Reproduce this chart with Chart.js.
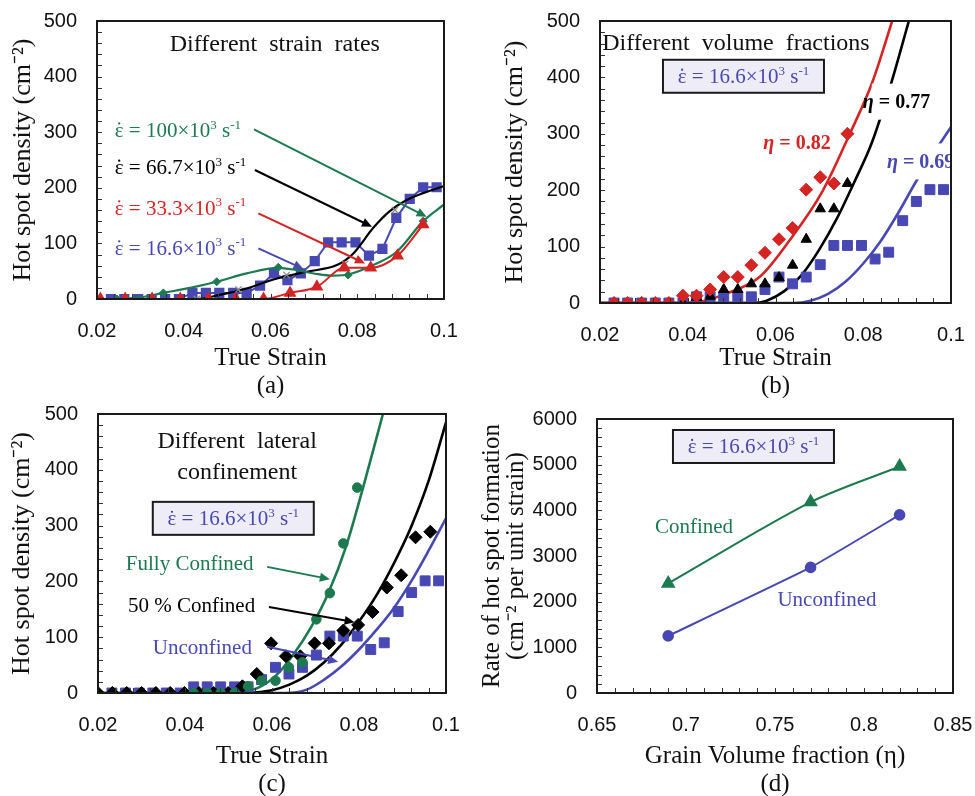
<!DOCTYPE html>
<html><head><meta charset="utf-8">
<script src="https://cdn.jsdelivr.net/npm/chart.js@4/dist/chart.umd.min.js"></script>
<style>
html,body{margin:0;padding:0;background:#fff;width:975px;height:796px;overflow:hidden;position:relative}
canvas{position:absolute}
</style></head><body>
<canvas id="ca" style="left:0;top:0" width="487" height="398"></canvas>
<canvas id="cb" style="left:487px;top:0" width="488" height="398"></canvas>
<canvas id="cc" style="left:0;top:398px" width="487" height="398"></canvas>
<canvas id="cd" style="left:475px;top:398px" width="500" height="398"></canvas>
<script>
// ---------- data ----------
const strainTicks = [0.02, 0.04, 0.06, 0.08, 0.1];
const strainTickLabels = ['0.02', '0.04', '0.06', '0.08', '0.1'];
const densityTicks = [0, 100, 200, 300, 400, 500];
const densityTickLabels = ['0', '100', '200', '300', '400', '500'];
const fracTicks = [0.65, 0.7, 0.75, 0.8, 0.85];
const fracTickLabels = ['0.65', '0.7', '0.75', '0.8', '0.85'];
const rateTicks = [0, 1000, 2000, 3000, 4000, 5000, 6000];
const rateTickLabels = ['0', '1000', '2000', '3000', '4000', '5000', '6000'];

// strain grid of the 16.6e3 /s (eta=0.69, unconfined) simulation outputs
const strainGrid = [0.0232,0.0263,0.0295,0.0326,0.0357,0.0389,0.0420,0.0451,0.0482,0.0514,0.0545,0.0576,0.0608,0.0639,0.0670,0.0702,0.0733,0.0764,0.0796,0.0827,0.0858,0.0890,0.0921,0.0952,0.0983];
const hsd16_6 = [0,0,0,0,0,0,11,11,11,11,11,24,46,34,46,68,102,102,102,78,90,146,180,201,201];

// (a) different strain rates
const rate33Strain = [0.0208,0.0265,0.0327,0.0392,0.0457,0.0520,0.0584,0.0645,0.0707,0.0770,0.0831,0.0893,0.0952];
const rate33Val = [0,0,0,0,0,0,0,11,22,56,56,78,134];
const rate100Strain = [0.0246,0.0353,0.0476,0.0618,0.0779,0.0952];
const rate100Val = [0,11,31,57,43,140];
const rate100CurveStrain = [0.0246,0.030,0.0353,0.042,0.0476,0.0545,0.0618,0.066,0.0707,0.0745,0.0779,0.0837,0.0891,0.0952,0.1];
const rate100CurveVal = [0,3,11,21,31,46,56,52,45,42,44,61,85,140,170];
const rate66Strain = [0.0430,0.0526,0.0637,0.0772,0.0887];
const rate66Val = [0,17,43,63,160];
const rate66CurveStrain = [0.02,0.043,0.048,0.0545,0.0607,0.0683,0.0753,0.0791,0.0837,0.0875,0.0914,0.095,0.1];
const rate66CurveVal = [0,0,7,19,35,49,61,82,128,158,178,190,203];

// (b) different volume fractions
const eta82Val = [0,0,0,0,0,13,13,24,46,46,67,89,113,133,201,223,212,300];
const eta77Val = [0,0,0,0,0,0,10,12,24,24,34,34,45,67,113,167,167,212];
const eta82CurveStrain = [0.020,0.039,0.0428,0.0489,0.0565,0.0633,0.0707,0.077,0.082,0.0866];
const eta82CurveVal = [0,0,2,17,47,112,198,301,390,500];
const eta77CurveStrain = [0.020,0.055,0.058,0.062,0.066,0.070,0.074,0.078,0.082,0.086,0.0904];
const eta77CurveVal = [0,0,4,21,50,95,150,215,285,380,500];
const eta69CurveStrain = [0.020,0.064,0.068,0.072,0.076,0.080,0.084,0.088,0.092,0.096,0.100];
const eta69CurveVal = [0,0,4,16,38,70,110,160,215,265,312];

// (c) different lateral confinement
const confStrain = [0.0200,0.0233,0.0266,0.0300,0.0333,0.0366,0.0399,0.0432,0.0466,0.0499,0.0532,0.0565,0.0598,0.0632,0.0665,0.0698,0.0731,0.0764,0.0798,0.0831,0.0864,0.0897,0.0930,0.0964];
const conf50Val = [0,0,0,0,0,0,0,0,0,0,12,34,89,66,66,89,89,112,122,145,189,211,279,289];
const fullConfVal = [0,0,0,0,12,22,22,46,55,132,179,268,368]; // on strainGrid[6..18]
const fullConfCurveStrain = [0.020,0.049,0.053,0.057,0.061,0.065,0.069,0.073,0.077,0.081,0.0855];
const fullConfCurveVal = [0,0,2,10,32,70,118,180,262,370,500];
const conf50CurveStrain = [0.020,0.053,0.056,0.060,0.064,0.068,0.072,0.076,0.080,0.084,0.088,0.092,0.096,0.100];
const conf50CurveVal = [0,0,1,5,15,31,55,87,128,175,232,298,380,485];
const unconfCurveStrain = [0.058,0.063,0.068,0.072,0.076,0.080,0.084,0.088,0.092,0.096,0.100];
const unconfCurveVal = [0,0,6,24,48,78,113,152,200,255,313];

// (d) rate of hot spot formation
const grainFraction = [0.69, 0.77, 0.82];
const rateConfined = [2400, 4180, 4960];
const rateUnconfined = [1250, 2750, 3900];

// ---------- style ----------
const GREEN = '#1d7a50', RED = '#d42424', BLUE = '#4848b4', BLACK = '#000';
const SERIF = 'Liberation Serif', SANS = 'Liberation Sans';

const pts = (xs, ys) => xs.map((x, i) => ({x, y: ys[i]}));

function drawRich(ctx, parts, x, y, o) {
  const size = o.size, weight = o.bold ? 'bold ' : '';
  const fontFor = p => (p.it ? 'italic ' : '') + weight + (p.sup ? Math.round(size * 0.62) : size) + 'px "' + SERIF + '"';
  let w = 0; const ws = [];
  for (const p of parts) { ctx.font = fontFor(p); const m = ctx.measureText(p.t).width; ws.push(m); w += m; }
  let cx = o.align === 'center' ? x - w / 2 : (o.align === 'right' ? x - w : x);
  if (o.bg) { ctx.fillStyle = '#fff'; ctx.fillRect(cx + o.bg[0], y - o.bg[2] / 2, w - o.bg[0] + o.bg[1], o.bg[2]); }
  ctx.fillStyle = o.color; ctx.textBaseline = 'alphabetic'; ctx.textAlign = 'left';
  const base = y + size * 0.33;
  parts.forEach((p, i) => {
    ctx.font = fontFor(p);
    ctx.fillText(p.t, cx, p.sup ? base - size * 0.4 : base);
    if (p.dot) { ctx.beginPath(); ctx.arc(cx + ws[i] * 0.5, base - size * 0.64, size * 0.055, 0, Math.PI * 2); ctx.fill(); }
    cx += ws[i];
  });
  return w;
}
const rateParts = num => [{t: 'ε', dot: true}, {t: ' = ' + num + '×10'}, {t: '3', sup: true}, {t: ' s'}, {t: '-1', sup: true}];
const etaParts = num => [{t: 'η', it: true}, {t: ' = ' + num}];

const ANN = {};
const MINOR = {};
const overlay = {
  id: 'overlay',
  afterDatasetsDraw(chart) {
    const items = ANN[chart.canvas.id] || [];
    const {ctx, chartArea: ca} = chart; const sx = chart.scales.x, sy = chart.scales.y;
    ctx.save();
    ctx.beginPath(); ctx.rect(ca.left, ca.top, ca.right - ca.left, ca.bottom - ca.top); ctx.clip();
    for (const it of items) {
      if (it.type === 'arrow') {
        const x1 = sx.getPixelForValue(it.x1), y1 = sy.getPixelForValue(it.y1);
        const x2 = sx.getPixelForValue(it.x2), y2 = sy.getPixelForValue(it.y2);
        const a = Math.atan2(y2 - y1, x2 - x1), L = 10, H = 4.5;
        ctx.strokeStyle = it.color; ctx.fillStyle = it.color; ctx.lineWidth = 2;
        ctx.beginPath(); ctx.moveTo(x1, y1); ctx.lineTo(x2 - L * 0.8 * Math.cos(a), y2 - L * 0.8 * Math.sin(a)); ctx.stroke();
        ctx.beginPath(); ctx.moveTo(x2, y2);
        ctx.lineTo(x2 - L * Math.cos(a) + H * Math.sin(a), y2 - L * Math.sin(a) - H * Math.cos(a));
        ctx.lineTo(x2 - L * Math.cos(a) - H * Math.sin(a), y2 - L * Math.sin(a) + H * Math.cos(a));
        ctx.closePath(); ctx.fill();
      } else if (it.type === 'text') {
        drawRich(ctx, it.parts, sx.getPixelForValue(it.x), sy.getPixelForValue(it.y), it);
      } else if (it.type === 'box') {
        const cx = sx.getPixelForValue(it.x), cy = sy.getPixelForValue(it.y);
        ctx.fillStyle = '#eeecf6'; ctx.fillRect(cx - it.w / 2, cy - it.h / 2, it.w, it.h);
        ctx.strokeStyle = '#1a1a1a'; ctx.lineWidth = 2; ctx.strokeRect(cx - it.w / 2, cy - it.h / 2, it.w, it.h);
        drawRich(ctx, it.parts, cx, cy, {size: it.size, color: it.color, align: 'center'});
      }
    }
    ctx.restore();
  },
  afterDraw(chart) {
    const {ctx, chartArea: ca} = chart; const sx = chart.scales.x, sy = chart.scales.y;
    const m = MINOR[chart.canvas.id];
    ctx.save();
    ctx.strokeStyle = '#333'; ctx.lineWidth = 1;
    const nx = Math.round((sx.max - sx.min) / m.x);
    for (let i = 1; i < nx; i++) {
      const p = Math.round(sx.getPixelForValue(sx.min + i * m.x)) + 0.5;
      ctx.beginPath(); ctx.moveTo(p, ca.bottom); ctx.lineTo(p, ca.bottom - 5); ctx.stroke();
    }
    const ny = Math.round((sy.max - sy.min) / m.y);
    for (let i = 1; i < ny; i++) {
      const p = Math.round(sy.getPixelForValue(sy.min + i * m.y)) + 0.5;
      ctx.beginPath(); ctx.moveTo(ca.left, p); ctx.lineTo(ca.left + 5, p); ctx.stroke();
    }
    ctx.strokeStyle = '#1a1a1a'; ctx.lineWidth = 2;
    ctx.strokeRect(ca.left, ca.top, ca.right - ca.left, ca.bottom - ca.top);
    ctx.restore();
  }
};

// tick labels are pushed away from the axis with an invisible tick mark, so that
// ticks.padding does not enlarge the layout padding of the chart area
const hiddenTickGrid = {display: true, drawOnChartArea: false, drawTicks: true, tickLength: 20, tickColor: 'rgba(0,0,0,0)'};

function makeChart(id, datasets, o) {
  MINOR[id] = o.minor;
  ANN[id] = o.ann;
  return new Chart(document.getElementById(id), {
    type: 'scatter',
    data: {datasets},
    options: {
      responsive: false, animation: false, devicePixelRatio: 1,
      layout: {padding: {left: 0, top: o.top, right: o.right, bottom: 0}},
      plugins: {legend: {display: false}, tooltip: {enabled: false}},
      scales: {
        x: {
          type: 'linear', min: o.xTicks[0], max: o.xTicks[o.xTicks.length - 1],
          afterFit: s => { s.height = o.xh; },
          afterBuildTicks: s => { s.ticks = o.xTicks.map(v => ({value: v})); },
          grid: hiddenTickGrid, border: {display: false},
          ticks: {padding: 0, color: '#111', font: {family: SANS, size: 20}, maxRotation: 0, autoSkip: false,
                  callback: (v, i) => o.xLabels[i]},
          title: {display: true, text: o.xTitle, color: '#111', font: {family: SERIF, size: 25, lineHeight: 1.1},
                  padding: {top: 0, bottom: -2}}
        },
        y: {
          type: 'linear', min: o.yTicks[0], max: o.yTicks[o.yTicks.length - 1],
          afterFit: s => { s.width = o.yw; },
          afterBuildTicks: s => { s.ticks = o.yTicks.map(v => ({value: v})); },
          grid: hiddenTickGrid, border: {display: false},
          ticks: {padding: 0, color: '#111', font: {family: SANS, size: 20}, autoSkip: false,
                  callback: (v, i) => o.yLabels[i]},
          title: {display: true, text: o.yTitle, color: '#111', font: {family: SERIF, size: o.ySize || 26, lineHeight: o.yLh || 1.1},
                  padding: {top: o.yPad, bottom: 0}}
        }
      }
    },
    plugins: [overlay]
  });
}

const marker = (data, color, style, r, extra) => Object.assign({data, showLine: false, pointStyle: style, pointRadius: r,
  backgroundColor: color, borderColor: color, borderWidth: 1}, extra || {});
const curve = (data, color, w, extra) => Object.assign({data, showLine: true, pointRadius: 0, borderColor: color,
  backgroundColor: color, borderWidth: w, cubicInterpolationMode: 'monotone'}, extra || {});

// ---------- (a) ----------
makeChart('ca', [
  marker(pts(rate33Strain, rate33Val), RED, 'triangle', 5.5, {showLine: true, borderWidth: 2, cubicInterpolationMode: 'monotone'}),
  marker(pts(rate100Strain, rate100Val), GREEN, 'rectRot', 4),
  curve(pts(rate100CurveStrain, rate100CurveVal), GREEN, 2.2),
  marker(pts(rate66Strain, rate66Val), '#8a8a8a', 'crossRot', 4.5, {borderWidth: 1.3}),
  curve(pts(rate66CurveStrain, rate66CurveVal), BLACK, 2.2),
  marker(pts(strainGrid, hsd16_6), BLUE, 'rect', 5.8, {showLine: true, borderWidth: 2, tension: 0})
], {
  top: 21, right: 43, xh: 99, yw: 97, yPad: 9,
  xTicks: strainTicks, xLabels: strainTickLabels, yTicks: densityTicks, yLabels: densityTickLabels,
  xTitle: ['True Strain', '(a)'], yTitle: 'Hot spot density (cm⁻²)',
  minor: {x: 0.004, y: 20},
  ann: [
    {type: 'text', x: 0.0610, y: 460, parts: [{t: 'Different  strain  rates'}], size: 24, color: '#111', align: 'center'},
    {type: 'text', x: 0.0241, y: 304, parts: rateParts('100'), size: 21, color: GREEN, align: 'left'},
    {type: 'text', x: 0.0241, y: 237, parts: rateParts('66.7'), size: 21, color: BLACK, align: 'left'},
    {type: 'text', x: 0.0241, y: 164, parts: rateParts('33.3'), size: 21, color: RED, align: 'left'},
    {type: 'text', x: 0.0241, y: 92, parts: rateParts('16.6'), size: 21, color: BLUE, align: 'left'},
    {type: 'arrow', x1: 0.0562, y1: 305, x2: 0.0960, y2: 148, color: GREEN},
    {type: 'arrow', x1: 0.0564, y1: 232, x2: 0.0834, y2: 130, color: BLACK},
    {type: 'arrow', x1: 0.0572, y1: 154, x2: 0.0818, y2: 64, color: RED},
    {type: 'arrow', x1: 0.0572, y1: 91, x2: 0.0676, y2: 54, color: BLUE}
  ]
});

// ---------- (b) ----------
makeChart('cb', [
  marker(pts(strainGrid.slice(0, 18), eta82Val), RED, 'rectRot', 6.5),
  marker(pts(strainGrid.slice(0, 18), eta77Val), BLACK, 'triangle', 6),
  marker(pts(strainGrid, hsd16_6), BLUE, 'rect', 7),
  curve(pts(eta82CurveStrain, eta82CurveVal), RED, 2.6),
  curve(pts(eta77CurveStrain, eta77CurveVal), BLACK, 2.6),
  curve(pts(eta69CurveStrain, eta69CurveVal), BLUE, 2.6)
], {
  top: 21, right: 24, xh: 95, yw: 113, yPad: 14,
  xTicks: strainTicks, xLabels: strainTickLabels, yTicks: densityTicks, yLabels: densityTickLabels,
  xTitle: ['True Strain', '(b)'], yTitle: 'Hot spot density (cm⁻²)',
  minor: {x: 0.004, y: 20},
  ann: [
    {type: 'text', x: 0.0205, y: 463, parts: [{t: 'Different  volume  fractions'}], size: 24, color: '#111', align: 'left'},
    {type: 'box', x: 0.0527, y: 402, w: 161, h: 33, parts: rateParts('16.6'), size: 21, color: BLUE},
    {type: 'text', x: 0.0649, y: 284, parts: etaParts('0.82'), size: 20, bold: true, color: RED, align: 'center'},
    {type: 'text', x: 0.0799, y: 357, parts: etaParts('0.77'), size: 20, bold: true, color: BLACK, align: 'left', bg: [9, 2, 36]},
    {type: 'text', x: 0.0854, y: 251, parts: etaParts('0.69'), size: 20, bold: true, color: BLUE, align: 'left', bg: [8, 10, 36]}
  ]
});

// ---------- (c) ----------
makeChart('cc', [
  marker(pts(strainGrid.slice(6, 19), fullConfVal), GREEN, 'circle', 4.8),
  marker(pts(confStrain, conf50Val), BLACK, 'rectRot', 6.5),
  marker(pts(strainGrid, hsd16_6), BLUE, 'rect', 7),
  curve(pts(fullConfCurveStrain, fullConfCurveVal), GREEN, 2.6),
  curve(pts(conf50CurveStrain, conf50CurveVal), BLACK, 2.6),
  curve(pts(unconfCurveStrain, unconfCurveVal), BLUE, 2.6)
], {
  top: 16, right: 41, xh: 103, yw: 98, yPad: 8,
  xTicks: strainTicks, xLabels: strainTickLabels, yTicks: densityTicks, yLabels: densityTickLabels,
  xTitle: ['True Strain', '(c)'], yTitle: 'Hot spot density (cm⁻²)',
  minor: {x: 0.004, y: 20},
  ann: [
    {type: 'text', x: 0.0520, y: 453, parts: [{t: 'Different  lateral'}], size: 24, color: '#111', align: 'center'},
    {type: 'text', x: 0.0520, y: 398, parts: [{t: 'confinement'}], size: 24, color: '#111', align: 'center'},
    {type: 'box', x: 0.0511, y: 313, w: 161, h: 33, parts: rateParts('16.6'), size: 21, color: BLUE},
    {type: 'text', x: 0.0264, y: 233, parts: [{t: 'Fully Confined'}], size: 21, color: GREEN, align: 'left'},
    {type: 'text', x: 0.0269, y: 158, parts: [{t: '50 % Confined'}], size: 21, color: BLACK, align: 'left'},
    {type: 'text', x: 0.0326, y: 83, parts: [{t: 'Unconfined'}], size: 21, color: BLUE, align: 'left'},
    {type: 'arrow', x1: 0.0589, y1: 226, x2: 0.0733, y2: 204, color: GREEN},
    {type: 'arrow', x1: 0.0593, y1: 154, x2: 0.0790, y2: 127, color: BLACK},
    {type: 'arrow', x1: 0.0589, y1: 83, x2: 0.0752, y2: 56, color: BLUE}
  ]
});

// ---------- (d) ----------
makeChart('cd', [
  marker(pts(grainFraction, rateConfined), GREEN, 'triangle', 6.5, {showLine: true, borderWidth: 2, tension: 0.3}),
  marker(pts(grainFraction, rateUnconfined), BLUE, 'circle', 4.8, {showLine: true, borderWidth: 2, tension: 0.1})
], {
  top: 21, right: 22, xh: 103, yw: 122, yPad: 6, yLh: 0.95, ySize: 25,
  xTicks: fracTicks, xLabels: fracTickLabels, yTicks: rateTicks, yLabels: rateTickLabels,
  xTitle: ['Grain Volume fraction (η)', '(d)'], yTitle: ['Rate of hot spot formation', '(cm⁻² per unit strain)'],
  minor: {x: 0.01, y: 200},
  ann: [
    {type: 'box', x: 0.7379, y: 5398, w: 161, h: 33, parts: rateParts('16.6'), size: 21, color: BLUE},
    {type: 'text', x: 0.7045, y: 3657, parts: [{t: 'Confined'}], size: 21, color: GREEN, align: 'center'},
    {type: 'text', x: 0.7792, y: 2058, parts: [{t: 'Unconfined'}], size: 21, color: BLUE, align: 'center'}
  ]
});
</script>
</body></html>
